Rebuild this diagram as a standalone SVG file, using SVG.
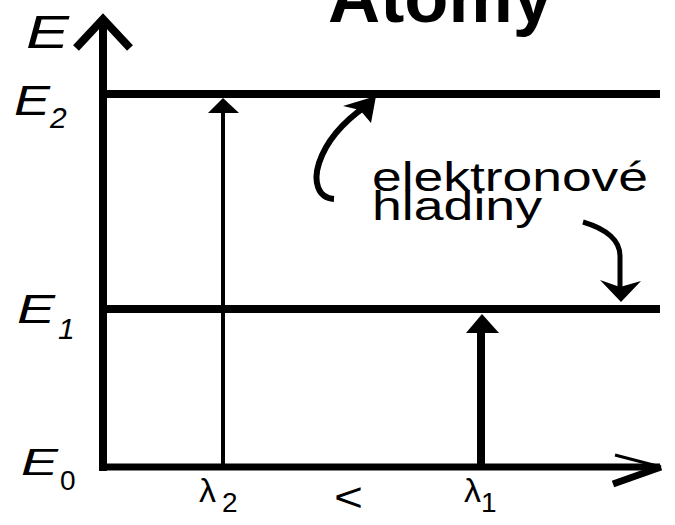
<svg xmlns="http://www.w3.org/2000/svg" width="675" height="525" viewBox="0 0 675 525">
<style>
.ln{stroke:#000;fill:none;stroke-linecap:butt}
.lbl{font-family:"Liberation Sans",Arial,sans-serif;fill:#000}
.it{font-style:italic}
.hd{fill:#000;stroke:none}
</style>
<rect width="675" height="525" fill="#fff"/>
<g id="title"><text class="lbl" x="328" y="22" font-size="72" font-weight="bold" textLength="225" lengthAdjust="spacingAndGlyphs">Atomy</text></g>
<g id="axis-labels">
<text class="lbl it" x="26" y="48" font-size="46" textLength="43" lengthAdjust="spacingAndGlyphs">E</text>
<g id="label-E2"><text class="lbl it" x="14" y="115" font-size="42" textLength="36" lengthAdjust="spacingAndGlyphs">E</text><text class="lbl it" x="50" y="128" font-size="30">2</text></g>
<g id="label-E1"><text class="lbl it" x="17" y="323" font-size="40" textLength="38" lengthAdjust="spacingAndGlyphs">E</text><text class="lbl it" x="58" y="339" font-size="30">1</text></g>
<g id="label-E0"><text class="lbl it" x="21" y="475" font-size="36" textLength="37" lengthAdjust="spacingAndGlyphs">E</text><text class="lbl" x="60" y="490" font-size="28">0</text></g>
<g id="label-l2"><text class="lbl" x="199" y="502" font-size="34">λ</text><text class="lbl" x="222" y="512" font-size="28">2</text></g>
<text id="label-lt" class="lbl" x="334" y="511" font-size="40" textLength="29" lengthAdjust="spacingAndGlyphs">&lt;</text>
<g id="label-l1"><text class="lbl" x="464" y="502" font-size="34">λ</text><text class="lbl" x="481" y="512" font-size="28">1</text></g>
</g>
<g id="note"><text class="lbl" x="372" y="191" font-size="40" textLength="276" lengthAdjust="spacingAndGlyphs">elektronové</text><text class="lbl" x="372" y="220" font-size="40" textLength="170" lengthAdjust="spacingAndGlyphs">hladiny</text></g>
<g id="axes">
<line class="ln" x1="103" y1="471" x2="103" y2="20" stroke-width="8"/>
<polyline class="ln" points="76,48 103,19 130,48" stroke-width="8" stroke-linejoin="miter"/>
<line class="ln" x1="99" y1="467" x2="660" y2="467" stroke-width="7"/>
<line class="ln" x1="615" y1="455" x2="661" y2="467" stroke-width="3"/>
<line class="ln" x1="613" y1="484" x2="661" y2="467" stroke-width="7"/>
</g>
<g id="levels">
<line id="level-E2" class="ln" x1="99" y1="94" x2="660" y2="94" stroke-width="8"/>
<line id="level-E1" class="ln" x1="99" y1="309" x2="660" y2="309" stroke-width="8"/>
</g>
<g id="connectors">
<line class="ln" x1="223" y1="467" x2="223" y2="108" stroke-width="4"/>
<polygon class="hd" points="223,98 208,113 239,113"/>
<line class="ln" x1="481" y1="467" x2="481" y2="328" stroke-width="8"/>
<polygon class="hd" points="482,314 466,333 499,333"/>
<path class="ln" d="M334 199 C318 198 313 182 319 163 C326 142 343 122 366 106" stroke-width="6"/>
<polygon class="hd" points="376,96 343,106 360,110 371,123"/>
<path class="ln" d="M583 222 C603 228 620 238 620 256 L620 288" stroke-width="5"/>
<polygon class="hd" points="600,280 620,287 641,281 621,302"/>
</g>
</svg>
